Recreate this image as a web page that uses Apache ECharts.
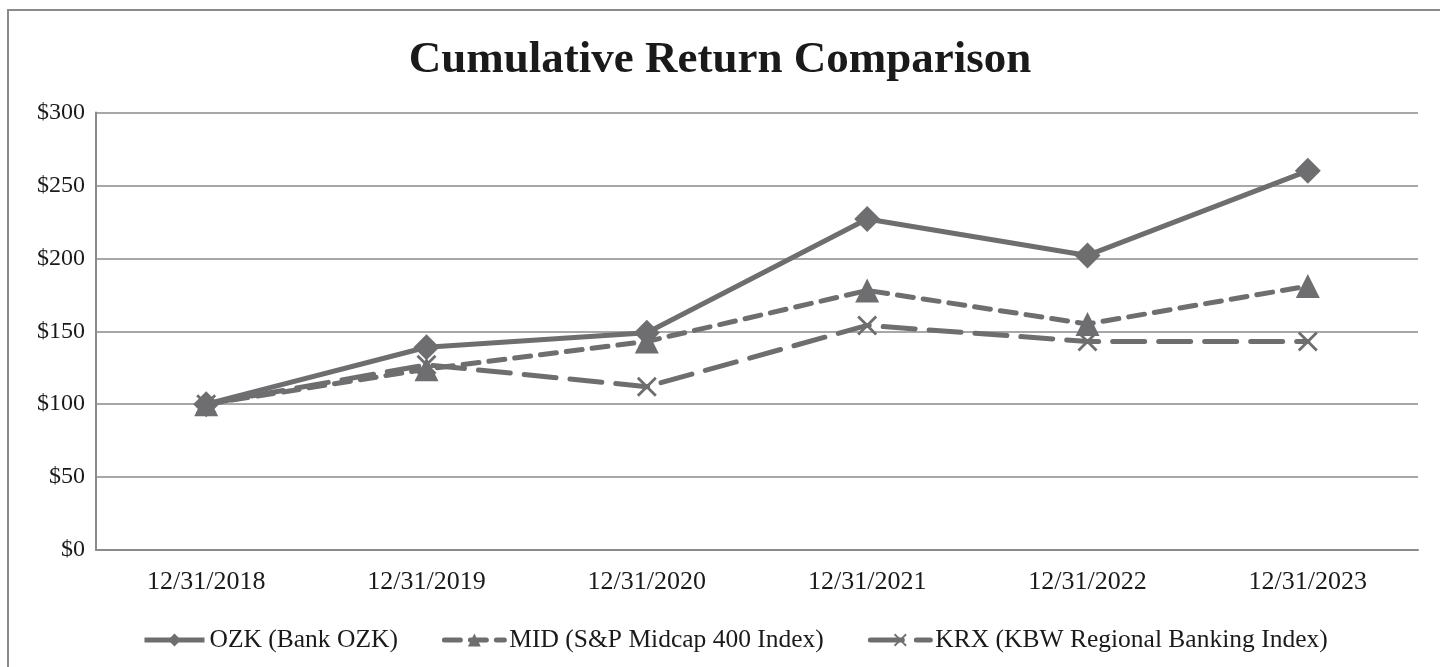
<!DOCTYPE html>
<html>
<head>
<meta charset="utf-8">
<script src="https://cdn.jsdelivr.net/npm/echarts@6/dist/echarts.min.js"></script>
<style>
html,body{margin:0;padding:0;background:#fff;}
#chart{width:1440px;height:667px;}
</style>
</head>
<body>
<div id="chart"></div>
<script>
const titleText = 'Cumulative Return Comparison';
const categories = ['12/31/2018','12/31/2019','12/31/2020','12/31/2021','12/31/2022','12/31/2023'];
const seriesNames = ['OZK (Bank OZK)','MID (S&P Midcap 400 Index)','KRX (KBW Regional Banking Index)'];
const ozk = [100, 139, 149, 227, 202, 260];
const mid = [100, 124, 143, 178, 155, 181];
const krx = [100, 127, 112, 154, 143, 143];
const yTicks = [0, 50, 100, 150, 200, 250, 300];

const lineColor = '#6e6e70';
const serif = '"Liberation Serif", "Times New Roman", serif';
const xPath = 'path://M0,2 L2,0 L10,8 L18,0 L20,2 L12,10 L20,18 L18,20 L10,12 L2,20 L0,18 L8,10 Z';

const chart = echarts.init(document.getElementById('chart'));
chart.setOption({
  animation: false,
  backgroundColor: '#fff',
  textStyle: { fontFamily: serif },
  graphic: [{
    type: 'rect',
    shape: { x: 8, y: 10, width: 1600, height: 800 },
    style: { fill: 'none', stroke: '#8a8a8a', lineWidth: 2 },
    silent: true
  }],
  title: {
    text: titleText,
    left: 'center',
    top: 33,
    textStyle: { fontFamily: serif, fontSize: 45, fontWeight: 'bold', color: '#1a1a1a' }
  },
  grid: { left: 96, right: 22, top: 112.5, bottom: 117, containLabel: false },
  legend: {
    left: 137,
    top: 622,
    itemWidth: 60,
    itemHeight: 16,
    itemGap: 44,
    lineStyle: { width: 5 },
    textStyle: { fontFamily: serif, fontSize: 25.5, color: '#1a1a1a' },
    data: seriesNames
  },
  xAxis: {
    type: 'category',
    data: categories,
    boundaryGap: true,
    axisLine: { show: true, lineStyle: { color: '#8a8a8a', width: 2 } },
    axisTick: { show: false },
    axisLabel: { fontFamily: serif, fontSize: 26, color: '#1a1a1a', margin: 19 },
    splitLine: { show: false }
  },
  yAxis: {
    type: 'value',
    min: yTicks[0],
    max: yTicks[yTicks.length - 1],
    interval: 50,
    axisLine: { show: true, lineStyle: { color: '#8a8a8a', width: 2 } },
    axisTick: { show: false },
    axisLabel: { fontFamily: serif, fontSize: 24, color: '#1a1a1a', margin: 11, formatter: v => '$' + v },
    splitLine: { show: true, lineStyle: { color: '#8a8a8a', width: 1.5 } }
  },
  series: [
    {
      name: seriesNames[0], type: 'line', data: ozk,
      symbol: 'diamond', symbolSize: 26,
      itemStyle: { color: lineColor },
      lineStyle: { color: lineColor, width: 5, type: 'solid' },
      z: 3
    },
    {
      name: seriesNames[1], type: 'line', data: mid,
      symbol: 'triangle', symbolSize: 24,
      itemStyle: { color: lineColor },
      lineStyle: { color: lineColor, width: 5, type: [16, 10], cap: 'round' },
      z: 4
    },
    {
      name: seriesNames[2], type: 'line', data: krx,
      symbol: xPath, symbolSize: 20,
      itemStyle: { color: lineColor },
      lineStyle: { color: lineColor, width: 5, type: [32, 14], cap: 'round' },
      z: 2
    }
  ]
});
</script>
</body>
</html>
